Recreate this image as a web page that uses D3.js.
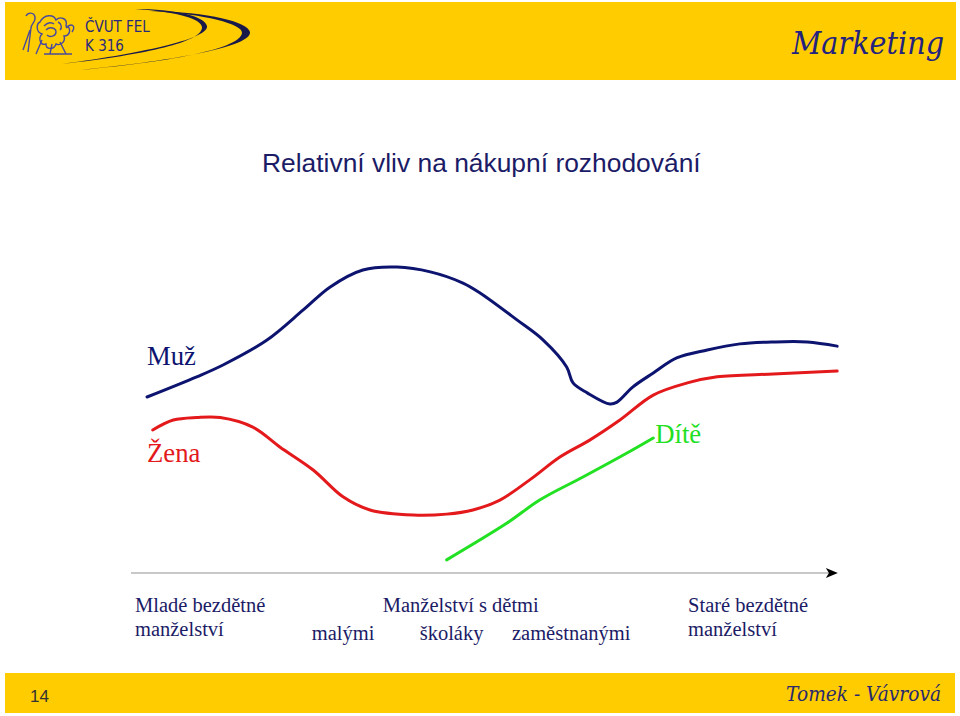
<!DOCTYPE html>
<html>
<head>
<meta charset="utf-8">
<script src="https://cdn.jsdelivr.net/npm/d3@7"></script>
<style>
  html, body { margin: 0; padding: 0; background: #ffffff; }
  svg { display: block; }
</style>
</head>
<body>
<script>
// ---------------- DATA ----------------
// life-cycle stage (0..100) vs relative influence (0..100)
const muzStage  = [2.4, 9.4, 13.1, 19.3, 24.4, 28.2, 32.8, 37.6, 42.3, 46.9, 49.3, 54.5, 58.2, 61.5, 62.4, 64.4, 67.6, 68.6, 70.8, 73.7, 77.0, 81.3, 85.9, 90.6, 95.4, 99.6];
const muzValue  = [55.0, 61.3, 65.0, 72.8, 82.2, 89.4, 94.7, 95.6, 94.1, 90.6, 87.5, 79.1, 72.8, 64.4, 59.4, 56.3, 52.8, 53.4, 58.1, 62.5, 67.2, 69.7, 71.6, 72.2, 72.2, 70.9];
const zenaStage = [3.2, 6.1, 9.4, 12.7, 17.3, 21.1, 25.8, 30.0, 33.8, 39.9, 44.6, 48.3, 52.1, 56.3, 60.6, 64.8, 69.0, 73.7, 78.5, 82.7, 90.6, 99.6];
const zenaValue = [44.7, 47.8, 48.6, 48.6, 45.6, 39.4, 32.2, 23.8, 19.7, 18.1, 18.4, 19.7, 22.8, 29.1, 36.3, 41.6, 47.8, 55.6, 59.4, 61.3, 62.2, 63.1];
const diteStage = [44.6, 53.1, 57.7, 63.8, 70.0, 73.7];
const diteValue = [4.1, 15.6, 22.8, 30.0, 37.5, 42.2];

const seriesNames = ["Muž", "Žena", "Dítě"];
const stageLabelsTop    = ["Mladé bezdětné", "Manželství s dětmi", "Staré bezdětné"];
const stageLabelsTopX   = [0.7, 35.6, 78.6];
const stageLabelsBottom = ["manželství", "malými", "školáky", "zaměstnanými", "manželství"];
const stageLabelsBottomX= [0.7, 25.6, 40.8, 53.8, 78.6];

const title = "Relativní vliv na nákupní rozhodování";
const pageNumber = "14";
const headerRight = "Marketing";
const footerRight = "Tomek - Vávrová";
const logoLines = ["ČVUT FEL", "K 316"];

// ---------------- LAYOUT ----------------
const W = 960, H = 716;
const navy = "#1b1b66";
const svg = d3.select("body").append("svg").attr("width", W).attr("height", H);

const x = d3.scaleLinear().domain([0, 100]).range([130, 840]);
const y = d3.scaleLinear().domain([0, 100]).range([573, 253]);

// header / footer bars
svg.append("rect").attr("x", 5).attr("y", 2).attr("width", 951).attr("height", 78).attr("fill", "#FFCC00");
svg.append("rect").attr("x", 5).attr("y", 673).attr("width", 950).attr("height", 40).attr("fill", "#FFCC00");

// logo swooshes
const logo = svg.append("g");
logo.append("path")
  .attr("d", "M135,9 C175,9 205,16 207,26 C209,38 150,52 62,64 C150,54 200,42 202,28 C203,18 170,11 135,9 Z")
  .attr("fill", "#1a1a4a");
logo.append("path")
  .attr("d", "M150,11 C210,12 248,22 250,32 C252,46 180,60 80,70 C178,61 240,48 242,33 C243,24 205,14 150,11 Z")
  .attr("fill", "#1a1a4a");
// stylised lion emblem
const lion = logo.append("g").attr("fill", "none").attr("stroke", "#4a4a9c").attr("stroke-width", 1.4);
lion.append("path").attr("d", "M26,16 C28,12 34,12 35,17 C36,22 31,24 31,28 L28,52 M30,30 L23,50");
lion.append("path").attr("d", "M40,22 C44,14 54,14 56,20 C60,16 68,18 66,26 C72,28 70,36 64,36 C66,42 60,46 56,44 C54,50 46,50 46,44 C40,46 38,38 42,34 C36,32 36,24 40,22 Z");
lion.append("path").attr("d", "M46,30 C50,26 56,28 56,32 C56,36 50,38 47,35 M52,44 L50,54 M60,42 L66,54 M42,40 L36,54 M44,54 L72,54");
lion.append("path").attr("d", "M58,22 C62,24 62,28 60,30 M44,26 C48,22 52,22 54,24 M66,28 C72,22 76,26 72,32");
logo.selectAll("text.logo").data(logoLines).join("text")
  .attr("class", "logo")
  .attr("x", 85).attr("y", (d, i) => 32 + i * 19)
  .attr("font-family", "'DejaVu Sans Condensed', 'DejaVu Sans', sans-serif")
  .attr("font-size", 15).attr("fill", "#2a2a7a")
  .text(d => d);

// header right script text
svg.append("text").attr("x", 792).attr("y", 54)
  .attr("font-family", "'DejaVu Serif', serif").attr("font-style", "italic")
  .attr("font-size", 31).attr("fill", "#23237f")
  .attr("textLength", 152).attr("lengthAdjust", "spacingAndGlyphs")
  .text(headerRight);

// footer
svg.append("text").attr("x", 30).attr("y", 702)
  .attr("font-family", "'Liberation Sans', Arial, sans-serif")
  .attr("font-size", 17).attr("fill", "#333333").text(pageNumber);
svg.append("text").attr("x", 786).attr("y", 701)
  .attr("font-family", "'DejaVu Serif', serif").attr("font-style", "italic")
  .attr("font-size", 21).attr("fill", "#2a2a6e")
  .attr("textLength", 155).attr("lengthAdjust", "spacingAndGlyphs")
  .text(footerRight);

// title
svg.append("text").attr("x", 262).attr("y", 172)
  .attr("font-family", "'Liberation Sans', Arial, sans-serif")
  .attr("font-size", 26.4).attr("fill", navy).text(title);

// axis (horizontal arrow)
const axisG = svg.append("g").attr("transform", `translate(0,${y(0)})`)
  .call(d3.axisBottom(x).tickValues([]).tickSizeOuter(0));
axisG.select(".domain").attr("stroke", "#c8c8c8").attr("stroke-width", 2)
  .attr("d", `M${x(0) + 1},0H${x(98.4)}`);
const tip = x(99.7);
svg.append("path")
  .attr("d", `M${tip - 12},${y(0) - 5} L${tip},${y(0)} L${tip - 12},${y(0) + 5} L${tip - 9},${y(0)} Z`)
  .attr("fill", "#000");

// curves
const line = d3.line().x(d => x(d[0])).y(d => y(d[1])).curve(d3.curveCatmullRom.alpha(0.5));
const series = [
  { name: seriesNames[0], pts: d3.zip(muzStage, muzValue),   color: "#0d1470" },
  { name: seriesNames[1], pts: d3.zip(zenaStage, zenaValue), color: "#e3191c" },
  { name: seriesNames[2], pts: d3.zip(diteStage, diteValue), color: "#22e022" }
];
svg.append("g").selectAll("path").data(series).join("path")
  .attr("d", d => line(d.pts))
  .attr("fill", "none").attr("stroke", d => d.color)
  .attr("stroke-width", 3).attr("stroke-linecap", "round").attr("stroke-linejoin", "round");

// series labels
const serif = "'Liberation Serif', 'Times New Roman', serif";
svg.append("text").attr("x", 147).attr("y", 365).attr("font-family", serif)
  .attr("font-size", 26.7).attr("fill", "#0d1470").text(seriesNames[0]);
svg.append("text").attr("x", 147).attr("y", 462).attr("font-family", serif)
  .attr("font-size", 26.7).attr("fill", "#e3191c").text(seriesNames[1]);
svg.append("text").attr("x", x(diteStage[diteStage.length - 1]) + 2).attr("y", 443).attr("font-family", serif)
  .attr("font-size", 26.7).attr("fill", "#22e022").text(seriesNames[2]);

// stage labels
svg.append("g").selectAll("text").data(d3.zip(stageLabelsTop, stageLabelsTopX)).join("text")
  .attr("x", d => x(d[1])).attr("y", 612)
  .attr("font-family", serif).attr("font-size", 20.5).attr("fill", navy)
  .text(d => d[0]);
svg.append("g").selectAll("text").data(d3.zip(stageLabelsBottom, stageLabelsBottomX)).join("text")
  .attr("x", d => x(d[1])).attr("y", (d, i) => (i === 0 || i === 4) ? 636 : 640)
  .attr("font-family", serif).attr("font-size", 20.5).attr("fill", navy)
  .text(d => d[0]);
</script>
</body>
</html>
